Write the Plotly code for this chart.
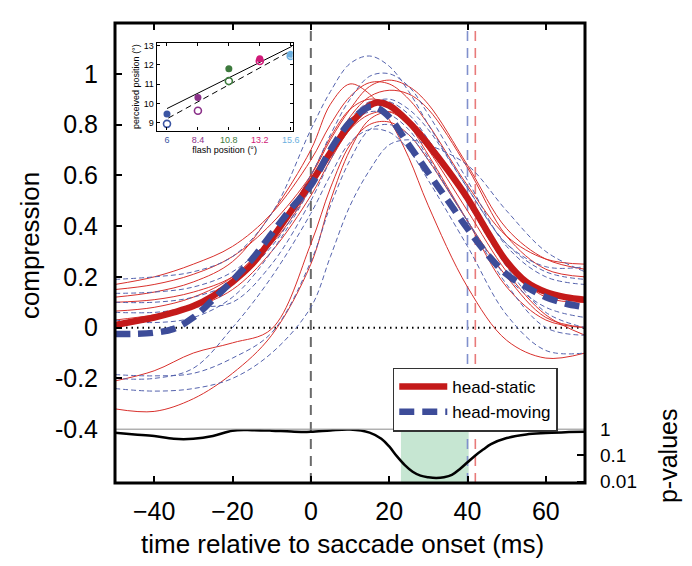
import plotly.graph_objects as go

# ---------------- data ----------------
T = [-50, -40, -30, -20, -10, 0, 5, 10, 15, 20, 25, 30, 40, 50, 60, 70]

static_subjects = [
    [0.17, 0.20, 0.25, 0.32, 0.45, 0.66, 0.80, 0.91, 0.965, 0.96, 0.90, 0.80, 0.56, 0.36, 0.27, 0.25],
    [0.15, 0.17, 0.21, 0.28, 0.41, 0.60, 0.74, 0.86, 0.95, 0.975, 0.95, 0.88, 0.64, 0.39, 0.27, 0.23],
    [0.10, 0.11, 0.14, 0.20, 0.33, 0.55, 0.70, 0.83, 0.91, 0.935, 0.92, 0.86, 0.63, 0.36, 0.23, 0.20],
    [0.065, 0.08, 0.12, 0.20, 0.36, 0.60, 0.75, 0.86, 0.90, 0.88, 0.80, 0.68, 0.42, 0.16, 0.03, 0.00],
    [0.03, 0.05, 0.08, 0.15, 0.30, 0.52, 0.66, 0.78, 0.84, 0.85, 0.80, 0.70, 0.46, 0.22, 0.05, -0.03],
    [-0.21, -0.17, -0.10, -0.06, -0.005, 0.33, 0.55, 0.72, 0.80, 0.81, 0.76, 0.66, 0.42, 0.20, 0.04, 0.00],
    [-0.32, -0.33, -0.28, -0.18, -0.03, 0.25, 0.50, 0.70, 0.82, 0.85, 0.82, 0.74, 0.50, 0.25, 0.12, 0.10],
    [0.12, 0.14, 0.18, 0.26, 0.45, 0.70, 0.88, 0.96, 0.92, 0.82, 0.67, 0.48, 0.16, -0.05, -0.12, -0.10],
]

moving_subjects = [
    [0.19, 0.20, 0.22, 0.28, 0.45, 0.78, 0.93, 1.04, 1.07, 1.03, 0.93, 0.80, 0.55, 0.33, 0.22, 0.19],
    [0.135, 0.14, 0.16, 0.22, 0.36, 0.60, 0.76, 0.90, 0.99, 1.00, 0.95, 0.84, 0.58, 0.32, 0.20, 0.17],
    [0.03, 0.02, 0.04, 0.12, 0.30, 0.55, 0.70, 0.82, 0.89, 0.89, 0.84, 0.74, 0.49, 0.24, 0.06, 0.00],
    [-0.185, -0.19, -0.18, -0.12, -0.02, 0.26, 0.48, 0.66, 0.78, 0.80, 0.76, 0.66, 0.42, 0.17, 0.00, -0.03],
    [-0.24, -0.25, -0.24, -0.20, -0.10, 0.08, 0.28, 0.48, 0.62, 0.72, 0.74, 0.72, 0.64, 0.46, 0.30, 0.22],
    [0.10, 0.10, 0.12, 0.18, 0.32, 0.56, 0.70, 0.80, 0.85, 0.84, 0.78, 0.67, 0.42, 0.20, 0.08, 0.04],
    [-0.20, -0.20, -0.16, 0.00, 0.20, 0.45, 0.60, 0.73, 0.78, 0.77, 0.70, 0.58, 0.32, 0.05, -0.09, -0.10],
    [0.06, 0.06, 0.08, 0.10, 0.25, 0.50, 0.66, 0.80, 0.88, 0.90, 0.86, 0.78, 0.55, 0.33, 0.24, 0.24],
]

TM = [-50, -45, -40, -35, -30, -25, -20, -15, -10, -5, 0, 5, 10, 15, 17, 20,
      25, 30, 35, 40, 45, 50, 55, 60, 65, 70]
static_mean = [0.01, 0.025, 0.04, 0.06, 0.085, 0.125, 0.18, 0.25, 0.35, 0.46, 0.57, 0.69, 0.80,
               0.875, 0.887, 0.875, 0.81, 0.72, 0.62, 0.51, 0.38, 0.26, 0.18, 0.14, 0.12, 0.11]
moving_mean = [-0.025, -0.025, -0.02, -0.005, 0.04, 0.11, 0.186, 0.27, 0.37, 0.47, 0.56, 0.70, 0.81,
               0.87, 0.865, 0.83, 0.72, 0.61, 0.50, 0.39, 0.29, 0.21, 0.16, 0.12, 0.095, 0.08]

TP = [-50, -45, -40, -35, -30, -25, -20, -15, -10, -5, 0, 5, 10, 15, 18, 20, 22, 24, 26,
      28, 30, 32, 34, 36, 38, 40, 42, 44, 46, 50, 55, 60, 65, 70]
p_values = [0.73, 0.63, 0.55, 0.43, 0.43, 0.55, 0.88, 0.92, 0.88, 0.81, 0.79, 0.90, 0.97, 0.74,
            0.43, 0.22, 0.092, 0.043, 0.024, 0.017, 0.0147, 0.0138, 0.0147, 0.018, 0.03, 0.055,
            0.10, 0.167, 0.27, 0.46, 0.63, 0.71, 0.77, 0.79]

signif_window = [23, 40.3]
saccade_onset = 0
static_end = 42
moving_end = 40

x_ticks = [-40, -20, 0, 20, 40, 60]
x_ticktext = ["\u221240", "\u221220", "0", "20", "40", "60"]
y_ticks = [-0.4, -0.2, 0, 0.2, 0.4, 0.6, 0.8, 1]
y_ticktext = ["-0.4", "-0.2", "0", "0.2", "0.4", "0.6", "0.8", "1"]
p_ticks = [1, 0.1, 0.01]
p_ticktext = ["1", "0.1", "0.01"]

# inset
flash_pos = [6, 8.4, 10.8, 13.2, 15.6]
flash_colors = ["#3b55a3", "#8a3088", "#3d7a3d", "#d01a78", "#6cb0e0"]
perceived_static = [9.46, 10.31, 11.80, 12.31, 12.54]
perceived_moving = [8.95, 9.63, 11.16, 12.20, 12.46]
fit_static_x = [6, 15.68]
fit_static_y = [9.74, 12.95]
fit_moving_x = [6.1, 15.6]
fit_moving_y = [9.25, 12.72]
inset_yticks = [9, 10, 11, 12, 13]

# ---------------- styles ----------------
RED_THIN = "#d8302c"
BLUE_THIN = "#5563ad"
RED = "#c41a1a"
BLUE = "#3d4c99"
FONT = "Liberation Sans, Arial, Helvetica, sans-serif"

fig = go.Figure()

for ys in static_subjects:
    fig.add_trace(go.Scatter(x=T, y=ys, mode="lines", line=dict(color=RED_THIN, width=1, shape="spline"),
                             showlegend=False, hoverinfo="skip", xaxis="x", yaxis="y"))
for ys in moving_subjects:
    fig.add_trace(go.Scatter(x=T, y=ys, mode="lines",
                             line=dict(color=BLUE_THIN, width=1, dash="5px,3px", shape="spline"),
                             showlegend=False, hoverinfo="skip", xaxis="x", yaxis="y"))

fig.add_trace(go.Scatter(x=TM, y=static_mean, mode="lines", name="head-static",
                         line=dict(color=RED, width=6.5, shape="spline"), xaxis="x", yaxis="y"))
fig.add_trace(go.Scatter(x=TM, y=moving_mean, mode="lines", name="head-moving",
                         line=dict(color=BLUE, width=6.5, dash="15px,8px", shape="spline"),
                         xaxis="x", yaxis="y"))

# p-values
fig.add_trace(go.Scatter(x=TP, y=p_values, mode="lines", line=dict(color="black", width=2.5, shape="spline"),
                         showlegend=False, hoverinfo="skip", xaxis="x", yaxis="y2"))

# dummy for top tick axis
fig.add_trace(go.Scatter(x=[x_ticks[0]], y=[None], mode="lines", showlegend=False, hoverinfo="skip",
                         xaxis="x4", yaxis="y"))

# inset traces
fig.add_trace(go.Scatter(x=fit_static_x, y=fit_static_y, mode="lines", line=dict(color="black", width=1),
                         showlegend=False, xaxis="x3", yaxis="y3"))
fig.add_trace(go.Scatter(x=fit_moving_x, y=fit_moving_y, mode="lines",
                         line=dict(color="black", width=1, dash="6px,4px"),
                         showlegend=False, xaxis="x3", yaxis="y3"))
fig.add_trace(go.Scatter(x=flash_pos, y=perceived_moving, mode="markers",
                         marker=dict(symbol="circle-open", size=7, color=flash_colors, line=dict(width=1.6)),
                         showlegend=False, xaxis="x3", yaxis="y3"))
fig.add_trace(go.Scatter(x=flash_pos, y=perceived_static, mode="markers",
                         marker=dict(symbol="circle", size=7, color=flash_colors),
                         showlegend=False, xaxis="x3", yaxis="y3"))

MAIN_BOTTOM = 0.117
shapes = [
    dict(type="rect", xref="x", yref="y2 domain", x0=signif_window[0], x1=signif_window[1], y0=0, y1=1,
         fillcolor="#c6e6d2", line=dict(width=0), layer="below"),
    dict(type="line", xref="paper", yref="y", x0=0, x1=1, y0=0, y1=0,
         line=dict(color="black", width=2, dash="1.5px,4px"), layer="below"),
    dict(type="line", xref="paper", yref="paper", x0=0, x1=1, y0=MAIN_BOTTOM, y1=MAIN_BOTTOM,
         line=dict(color="#8a8a8a", width=1)),
    dict(type="line", xref="x", yref="paper", x0=saccade_onset, x1=saccade_onset, y0=0, y1=0.985,
         line=dict(color="#6a6a6a", width=2, dash="10px,7px"), layer="below"),
    dict(type="line", xref="x", yref="paper", x0=moving_end, x1=moving_end, y0=0, y1=0.985,
         line=dict(color="#8090cc", width=1.6, dash="10px,7px"), layer="below"),
    dict(type="line", xref="x", yref="paper", x0=static_end, x1=static_end, y0=0, y1=0.985,
         line=dict(color="#e87a7a", width=1.6, dash="10px,7px"), layer="below"),
    dict(type="rect", xref="paper", yref="paper", x0=0, x1=1, y0=0, y1=1,
         line=dict(color="black", width=3)),
]

inset_ticktext = [f'<span style="color:{c}">{v:g}</span>' for v, c in zip(flash_pos, flash_colors)]

annotations = [
    dict(text="compression", xref="paper", yref="paper", x=-0.181, y=0.517, textangle=-90,
         xanchor="center", yanchor="middle", showarrow=False, font=dict(size=26, color="black")),
    dict(text="p-values", xref="paper", yref="paper", x=1.178, y=0.06, textangle=-90,
         xanchor="center", yanchor="middle", showarrow=False, font=dict(size=25, color="black")),
    dict(text="time relative to saccade onset (ms)", xref="paper", yref="paper", x=0.483, y=-0.132,
         xanchor="center", yanchor="middle", showarrow=False, font=dict(size=26, color="black")),
]

fig.update_layout(
    width=684, height=558,
    margin=dict(l=107, r=107, t=5, b=83),
    paper_bgcolor="white", plot_bgcolor="white",
    font=dict(family=FONT, color="black"),
    shapes=shapes, annotations=annotations,
    legend=dict(x=0.591, y=0.251, xanchor="left", yanchor="top", bgcolor="white",
                bordercolor="#333", borderwidth=1.5, font=dict(size=17), tracegroupgap=0,
                itemwidth=48),
    xaxis=dict(domain=[0, 1], anchor="y2", range=[-50, 70], tickvals=x_ticks, ticktext=x_ticktext,
               ticks="inside", ticklen=7, tickwidth=1.5, tickcolor="black", showgrid=False, zeroline=False,
               showline=False, tickfont=dict(size=25), ticklabelstandoff=11),
    xaxis4=dict(overlaying="x", anchor="y", side="top", range=[-50, 70], tickvals=x_ticks,
                ticks="inside", ticklen=7, tickwidth=1.5, tickcolor="black", showticklabels=False,
                showgrid=False, zeroline=False, showline=False),
    yaxis=dict(domain=[MAIN_BOTTOM, 1], anchor="x", range=[-0.4, 1.2], tickvals=y_ticks, ticktext=y_ticktext,
               ticks="inside", ticklen=7, tickwidth=1.5, tickcolor="black", showgrid=False, zeroline=False,
               showline=False, tickfont=dict(size=25), ticklabelstandoff=16),
    yaxis2=dict(domain=[0, MAIN_BOTTOM], anchor="x", type="log", range=[-2.05, 0], side="right",
                tickvals=p_ticks, ticktext=p_ticktext, ticks="inside", ticklen=8, tickwidth=2,
                tickcolor="black", showgrid=False, zeroline=False, showline=False,
                tickfont=dict(size=19), ticklabelstandoff=14),
    xaxis3=dict(domain=[0.0887, 0.378], anchor="y3", range=[5.2, 15.75], tickvals=flash_pos,
                ticktext=inset_ticktext, ticks="inside", ticklen=3, tickcolor="black", showgrid=False,
                zeroline=False, showline=True, linecolor="black", linewidth=1.3, mirror="allticks",
                tickfont=dict(size=9), title=dict(text="flash position (°)", font=dict(size=9), standoff=1)),
    yaxis3=dict(domain=[0.766, 0.9575], anchor="x3", range=[8.6, 13.15], tickvals=inset_yticks,
                ticks="inside", ticklen=3, tickcolor="black", showgrid=False, zeroline=False,
                showline=True, linecolor="black", linewidth=1.3, mirror="allticks",
                tickfont=dict(size=9), title=dict(text="perceived position (°)", font=dict(size=9), standoff=2)),
)

fig.write_html("out.html")
